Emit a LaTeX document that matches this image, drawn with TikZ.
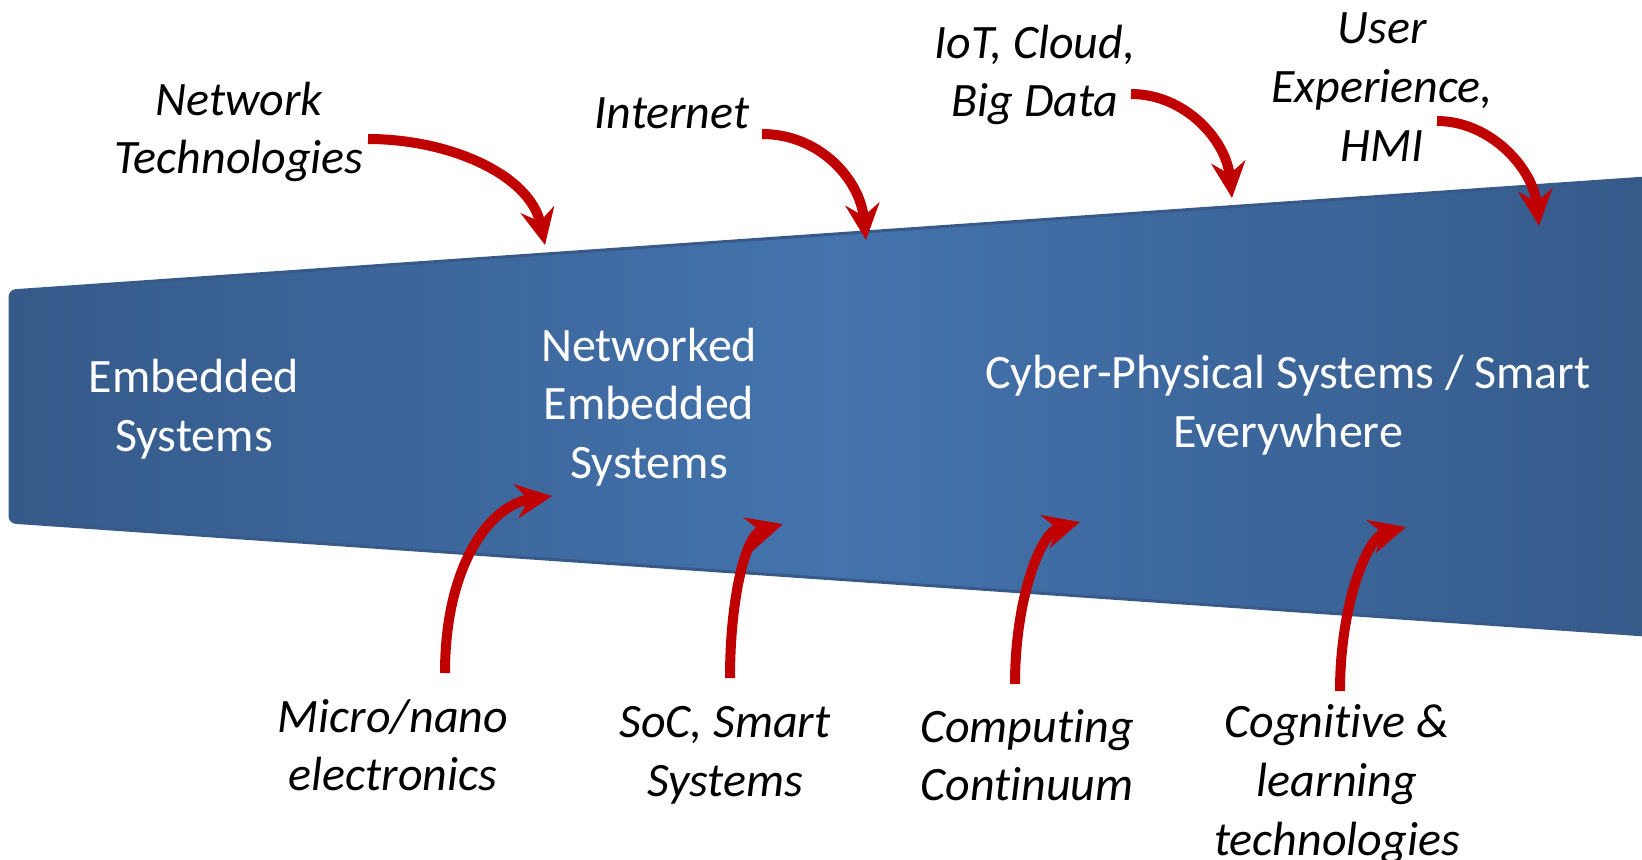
\documentclass[tikz,border=0pt]{standalone}
\usepackage{fontspec}
\setmainfont{Carlito}[Ligatures={NoCommon,NoRare,NoContextual},Contextuals={NoAlternate}]
\usetikzlibrary{arrows.meta}
\definecolor{bandmid}{RGB}{68,115,173}
\definecolor{bandedge}{RGB}{53,90,138}
\definecolor{bandline}{RGB}{55,90,136}
\definecolor{arrowred}{RGB}{192,0,0}
\begin{document}
\begin{tikzpicture}[x=0.5pt,y=-0.5pt,
  trend/.style={line width=5pt, draw=arrowred,
    -{Stealth[length=18pt,width=17pt,inset=6pt]}},
  bandtext/.style={text=white, align=center,
    font=\fontsize{24}{29.3}\selectfont},
  driver/.style={text=black, align=center,
    font=\fontsize{24}{29.3}\selectfont\itshape},
]
\useasboundingbox (0,0) rectangle (1642,859);
\clip (0,0) rectangle (1642,859);

% widening band of system generations
\path[draw=bandline, line width=1.5pt, rounded corners=3pt,
      left color=bandedge, right color=bandedge, middle color=bandmid]
  (10,291) -- (1660,177) -- (1660,636) -- (10,522) -- cycle;

% generations inside the band
\node[bandtext] (emb) at (194,409) {Embedded\\Systems};
\node[bandtext] (nes) at (649,407) {Networked\\Embedded\\Systems};
\node[bandtext] (cps) at (1288,405) {Cyber-Physical Systems / Smart\\Everywhere};

% driving technologies above the band
\node[driver] (net) at (239,132) {Network\\Technologies};
\node[driver] (inet) at (672,113) {Internet};
\node[driver] (iot) at (1035,75) {IoT, Cloud,\\Big Data};
\node[driver] (ux) at (1382,87) {User\\Experience,\\HMI};

% driving technologies below the band (kerns keep t and i as separate glyphs)
\node[driver] (micro) at (393,745) {Micro/nano\\electronics};
\node[driver] (soc) at (725,755) {SoC, Smart\\Systems};
\node[driver] (cont) at (1027,755) {Compu\kern0pt ting\\Continuum};
\node[driver] (cog) at (1337,784) {Cogni\kern0pt tive \&\\learning\\technologies};

% arrow end points
\coordinate (netA) at (368,139);   \coordinate (netB) at (545,245);
\coordinate (inetA) at (762,134);  \coordinate (inetB) at (866,240);
\coordinate (iotA) at (1131,94);   \coordinate (iotB) at (1232,198);
\coordinate (uxA) at (1437,121);   \coordinate (uxB) at (1539,226);
\coordinate (microA) at (445,673); \coordinate (microB) at (552,496);
\coordinate (socA) at (730,678);   \coordinate (socB) at (783,524);
\coordinate (contA) at (1015,684); \coordinate (contB) at (1080,522);
\coordinate (cogA) at (1340,691);  \coordinate (cogB) at (1406,527);

% arrows from above
\draw[trend] (netA) .. controls (450,139) and (530,175) .. (netB);
\draw[trend] (inetA) .. controls (820,134) and (860,180) .. (inetB);
\draw[trend] (iotA) .. controls (1185,94) and (1226,140) .. (iotB);
\draw[trend] (uxA) .. controls (1490,121) and (1533,168) .. (uxB);

% arrows from below
\draw[trend] (microA) .. controls (445,565) and (490,505) .. (microB);
\draw[trend] (socA) .. controls (730,600) and (745,535) .. (socB);
\draw[trend] (contA) .. controls (1015,600) and (1040,533) .. (contB);
\draw[trend] (cogA) .. controls (1340,607) and (1366,538) .. (cogB);
\end{tikzpicture}
\end{document}
